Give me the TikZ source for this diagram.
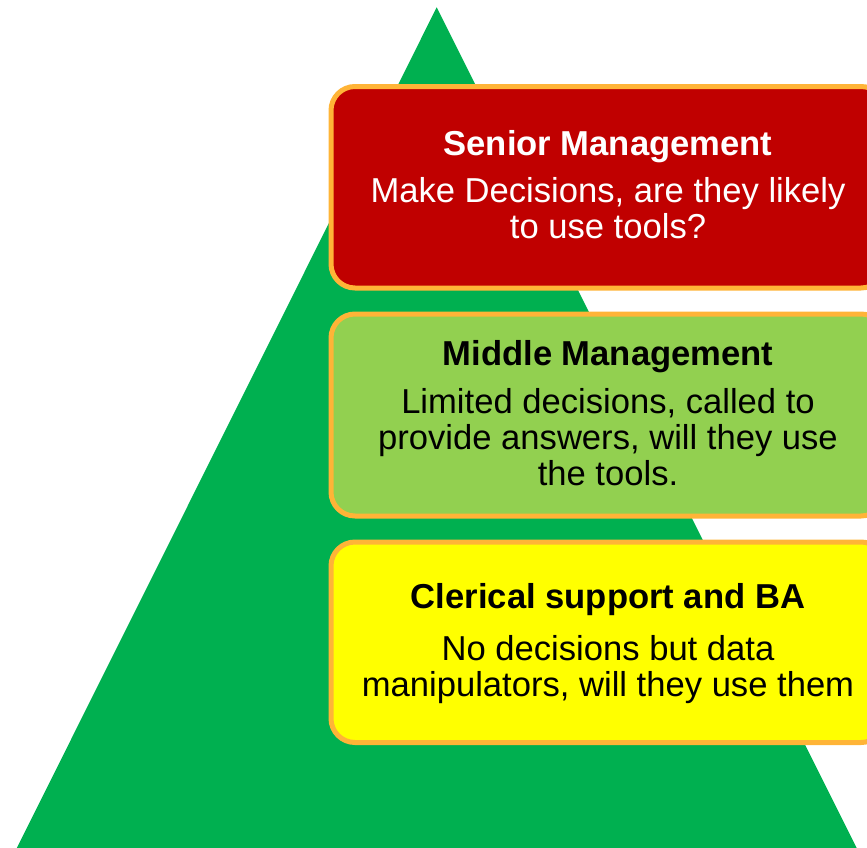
\documentclass[tikz,border=0pt]{standalone}
\usepackage{fontspec}
\setmainfont{Liberation Sans}
\definecolor{trigreen}{HTML}{00B050}
\definecolor{seniorred}{HTML}{C00000}
\definecolor{midgreen}{HTML}{92D050}
\definecolor{clerkyellow}{HTML}{FFFF00}
\definecolor{edgeorange}{RGB}{255,180,55}
\begin{document}
\begin{tikzpicture}[x=1pt,y=-1pt,
  tier/.style={draw=edgeorange, line width=5pt, rounded corners=24pt,
    minimum width=554pt, inner sep=0pt, outer sep=0pt},
  ttl/.style={font=\fontsize{34.6}{36}\bfseries\selectfont, anchor=base, inner sep=0pt},
  txt/.style={font=\fontsize{34.6}{36}\selectfont, anchor=base, inner sep=0pt}]
\useasboundingbox (0,0) rectangle (867,847);
\clip (0,0) rectangle (867,847);
\fill[trigreen] (436.7,7.3) -- (16.8,848) -- (856.7,848) -- cycle;
% Senior
\node[tier, fill=seniorred, minimum height=201.5pt] (senior) at (608,187.25) {};
\node[ttl, text=white] (seniorT) at (608,155) {Senior Management};
\node[txt, text=white] (seniorA) at (608,202.7) {Make Decisions, are they likely};
\node[txt, text=white] (seniorB) at (608,238.3) {to use tools?};
% Middle
\node[tier, fill=midgreen, minimum height=202pt] (middle) at (608,415) {};
\node[ttl] (middleT) at (608,365) {Middle Management};
\node[txt] (middleA) at (608,413.3) {Limited decisions, called to};
\node[txt] (middleB) at (608,449.5) {provide answers, will they use};
\node[txt] (middleC) at (608,485) {the tools.};
% Clerical
\node[tier, fill=clerkyellow, minimum height=200.5pt] (clerk) at (608,642.25) {};
\node[ttl] (clerkT) at (608,608.3) {Clerical support and BA};
\node[txt] (clerkA) at (608,660) {No decisions but data};
\node[txt] (clerkB) at (608,696) {manipulators, will they use them};
\end{tikzpicture}
\end{document}
